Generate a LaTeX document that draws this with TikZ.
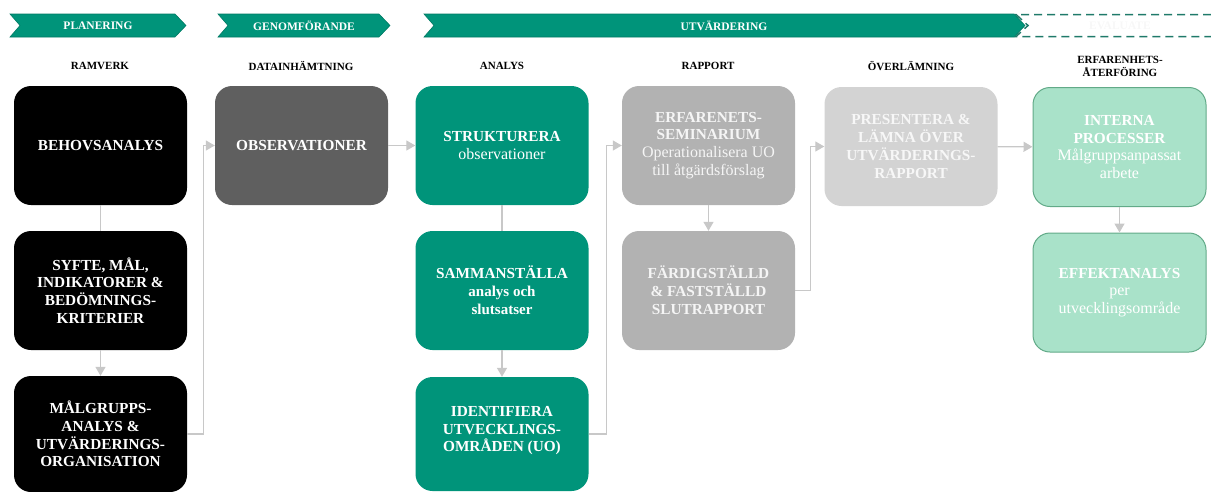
\documentclass[tikz,border=0pt]{standalone}
\usepackage{fontspec}
\setmainfont{Liberation Serif}
\usetikzlibrary{arrows.meta}
\definecolor{teal1}{HTML}{00947A}
\definecolor{tealdark}{HTML}{007A64}
\definecolor{dgray}{HTML}{5F5F5F}
\definecolor{mgray}{HTML}{B2B2B2}
\definecolor{lgray}{HTML}{D3D3D3}
\definecolor{mint}{HTML}{A9E2C9}
\definecolor{mintedge}{HTML}{62AA88}
\definecolor{conncol}{HTML}{C8C8C8}
\definecolor{dashcol}{HTML}{1F7A6A}
\tikzset{
  box/.style={rounded corners=17pt, minimum width=173pt, minimum height=119pt,
    align=center, text=white, inner sep=0pt,
    font=\bfseries\fontsize{15.3}{17.8}\selectfont},
  conn/.style={draw=conncol, line width=1.3pt},
  arr/.style={conn, -{Triangle[width=10pt,length=9pt]}},
  colhead/.style={font=\bfseries\fontsize{11}{13}\selectfont, align=center, text=black},
  chev/.style={fill=teal1, draw=tealdark, line width=0.6pt},
  chevtext/.style={font=\bfseries\fontsize{11.5}{12}\selectfont, text=white}
}
\newcommand{\subt}[1]{{\mdseries\fontsize{16}{17.8}\selectfont #1}}
\newcommand{\subb}[1]{{\fontsize{15}{17.8}\selectfont #1}}
\begin{document}
\begin{tikzpicture}[x=1pt,y=-1pt]
\useasboundingbox (0,0) rectangle (1211,491);
% chevrons
\path[chev] (10,14) -- (175,14) -- (186,25.5) -- (175,37) -- (10,37) -- (20,25.5) -- cycle;
\path[chev] (218,14) -- (379,14) -- (390,25.5) -- (379,37) -- (218,37) -- (228,25.5) -- cycle;
\draw[dashcol, line width=1.5pt, dash pattern=on 8pt off 5pt] (1211,14.5) -- (1016,14.5) -- (1028,25.5) -- (1016,36.5) -- (1211,36.5);
\path[chev] (424,14) -- (1014,14) -- (1025,25.5) -- (1014,37) -- (424,37) -- (434,25.5) -- cycle;
\node[chevtext] (tplan) at (98,26) {PLANERING};
\node[chevtext] (tgen) at (304,26) {GENOMFÖRANDE};
\node[chevtext] (tutv) at (724,26) {UTVÄRDERING};
\node[chevtext, text=black!3] (teval) at (1120,26) {EVALUATE};
% column headers
\node[colhead] (h1) at (100,66) {RAMVERK};
\node[colhead] (h2) at (301,66) {DATAINHÄMTNING};
\node[colhead] (h3) at (502,66) {ANALYS};
\node[colhead] (h4) at (708,66) {RAPPORT};
\node[colhead] (h5) at (911,66) {ÖVERLÄMNING};
\node[colhead] (h6) at (1120,66.5) {ERFARENHETS-\\ÅTERFÖRING};
% boxes
\node[box, fill=black] (beh) at (100.5,145.5) {BEHOVSANALYS};
\node[box, fill=black] (syf) at (100.5,290.5) {SYFTE, MÅL,\\INDIKATORER \&\\BEDÖMNINGS-\\KRITERIER};
\node[box, fill=black, minimum height=116pt] (mal) at (100.5,434) {MÅLGRUPPS-\\ANALYS \&\\UTVÄRDERINGS-\\ORGANISATION};
\node[box, fill=dgray] (obs) at (301.5,145.5) {OBSERVATIONER};
\node[box, fill=teal1] (str) at (502,145.5) {STRUKTURERA\\\subt{observationer}};
\node[box, fill=teal1] (sam) at (502,290.5) {SAMMANSTÄLLA\\\subb{analys och}\\\subb{slutsatser}};
\node[box, fill=teal1, minimum height=114pt, text depth=10pt] (ide) at (502,434) {IDENTIFIERA\\UTVECKLINGS-\\OMRÅDEN (UO)};
\node[box, fill=mgray, text=white!96!black] (erf) at (708.5,145.5) {ERFARENETS-\\SEMINARIUM\\\subt{Operationalisera UO}\\\subt{till åtgärdsförslag}};
\node[box, fill=mgray, text=white!96!black] (far) at (708.5,290.5) {FÄRDIGSTÄLLD\\\&\ FASTSTÄLLD\\SLUTRAPPORT};
\node[box, fill=lgray, text=white!97!black] (pre) at (911,146.5) {PRESENTERA \&\\LÄMNA ÖVER\\UTVÄRDERINGS-\\RAPPORT};
\node[box, fill=mint, draw=mintedge, line width=1pt] (int) at (1119.5,147) {INTERNA\\PROCESSER\\\subt{Målgruppsanpassat}\\\subt{arbete}};
\node[box, fill=mint, draw=mintedge, line width=1pt] (eff) at (1119.5,292.5) {EFFEKTANALYS\\\subt{per}\\\subt{utvecklingsområde}};
% connectors
\draw[conn] (beh) -- (syf);
\draw[arr] (syf) -- (mal);
\draw[arr] (mal.east) -- ++(16,0) |- (obs.west);
\draw[arr] (obs) -- (str);
\draw[conn] (str) -- (sam);
\draw[arr] (sam) -- (ide);
\draw[arr] (ide.east) -- ++(18,0) |- (erf.west);
\draw[arr] (erf) -- (far);
\draw[arr] (far.east) -- ++(15,0) |- (pre.west);
\draw[arr] (pre) -- (int);
\draw[arr] (int) -- (eff);
\end{tikzpicture}
\end{document}
